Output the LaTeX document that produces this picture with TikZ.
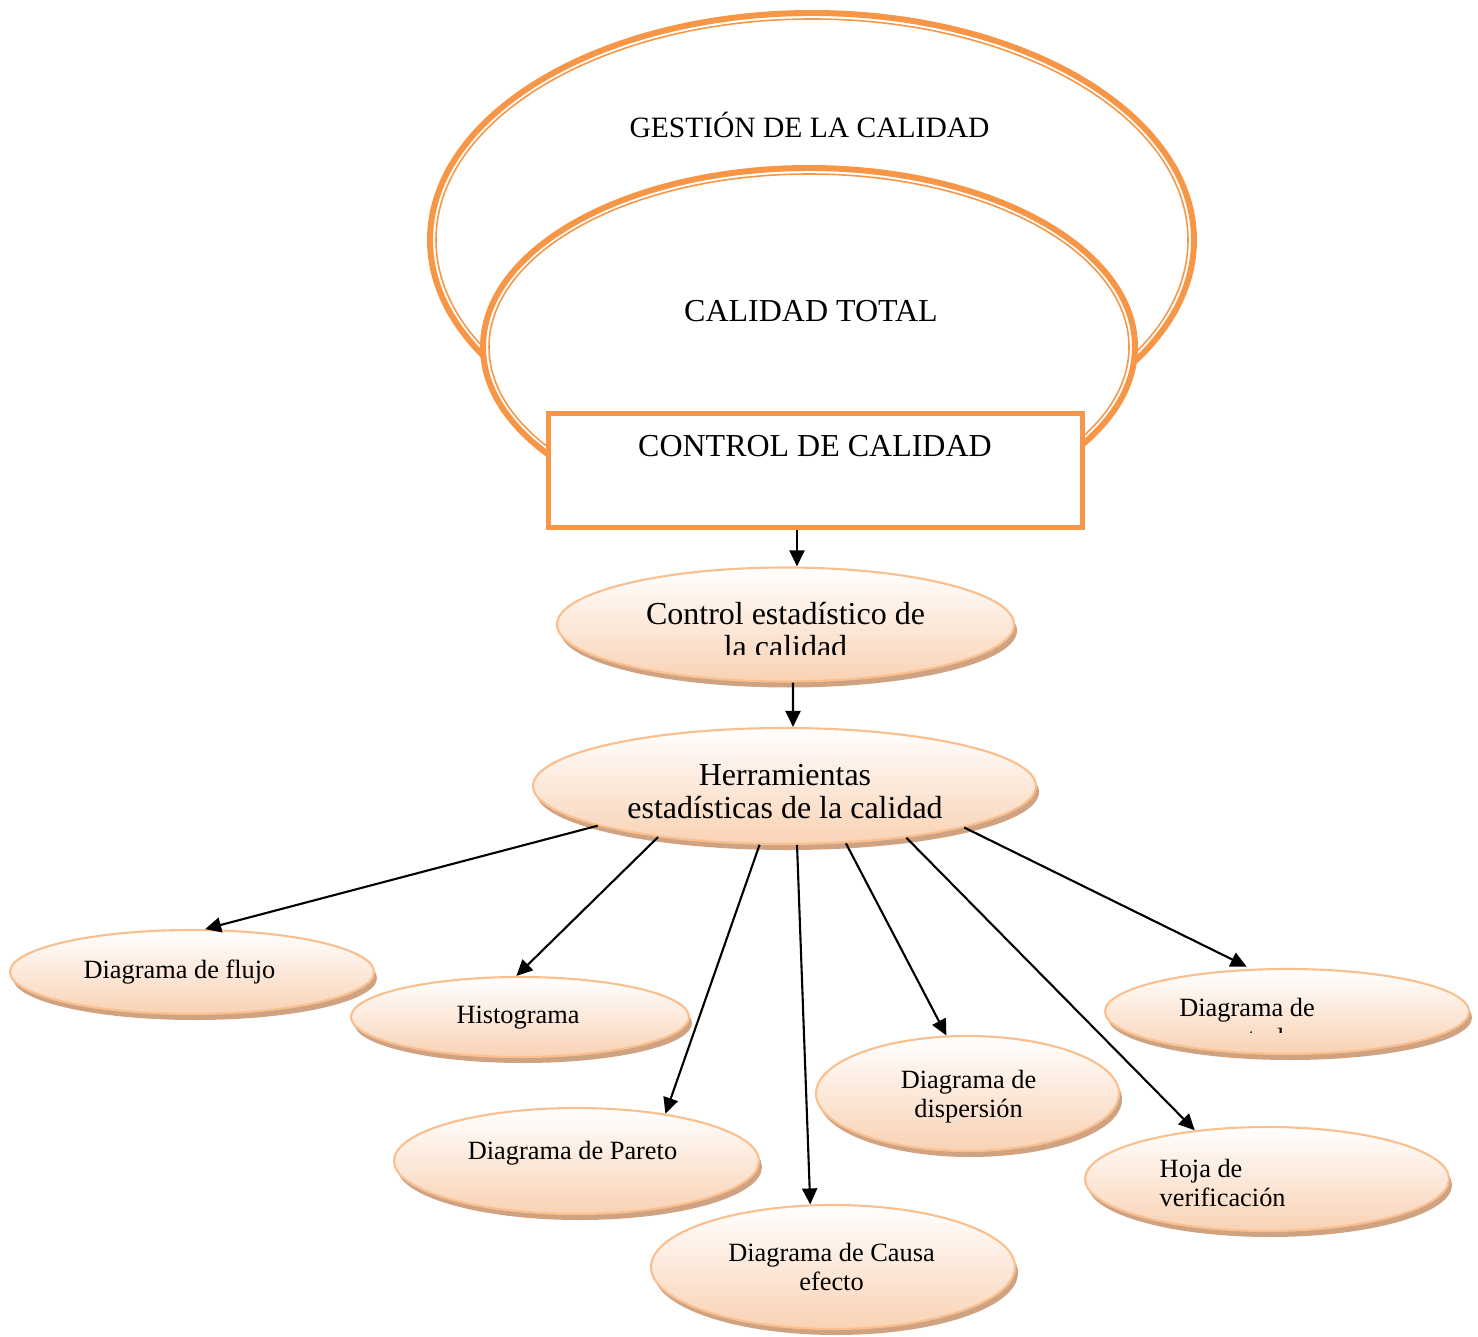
\documentclass[tikz,border=0pt]{standalone}
\usepackage{fontspec}
\setmainfont{Liberation Serif}
\usetikzlibrary{arrows.meta,positioning,shapes.geometric,shadows}
\definecolor{ringorange}{HTML}{F79646}
\definecolor{ovalline}{HTML}{F9BF8F}
\definecolor{ovalfill}{HTML}{F9D2B4}
\definecolor{ovalshadow}{HTML}{CFA281}
\tikzset{
  ccring/.style={draw=ringorange, line width=1.7pt},
  ccringin/.style={draw=ringorange, line width=0.45pt},
  ccbox/.style={draw=ringorange, fill=white, line width=1.45pt, minimum width=5.34cm, minimum height=1.14cm, inner sep=0pt},
  ccoval/.style={ellipse, draw=ovalline, line width=0.6pt, inner sep=0pt, top color=white, bottom color=ovalfill,
    drop shadow={shadow xshift=0.03cm, shadow yshift=-0.06cm, fill=ovalshadow, opacity=1}},
  cctop/.style={inner sep=0pt, font=\fontsize{9.1}{11}\selectfont},
  ccmid/.style={inner sep=0pt, align=center, font=\fontsize{9.1}{9.4}\selectfont},
  ccsmall/.style={inner sep=0pt, align=center, font=\fontsize{7.5}{8.4}\selectfont},
  ccarrow/.style={-{Triangle[length=1.6mm, width=1.5mm]}, line width=0.6pt},
}

\begin{document}
\begin{tikzpicture}
  \useasboundingbox (0,0) rectangle (14.78,-13.37);

  \draw[ccring] (8.12,-2.40) ellipse [x radius=3.82cm, y radius=2.27cm];
  \draw[ccringin] (8.12,-2.40) ellipse [x radius=3.76cm, y radius=2.21cm];
  \draw[ccring, fill=white] (8.09,-3.47) ellipse [x radius=3.26cm, y radius=1.79cm];
  \draw[ccringin] (8.09,-3.47) ellipse [x radius=3.20cm, y radius=1.73cm];
  \node[cctop, font=\fontsize{8.4}{10}\selectfont, anchor=base] (gestion) at (8.095,-1.38) {GESTIÓN DE LA CALIDAD};
  \node[cctop, anchor=base] (total) at (8.11,-3.22) {CALIDAD TOTAL};

  \node[ccbox] (ctrl) at (8.155,-4.705) {};
  \node[cctop, anchor=base] (ctrl-t) at (8.15,-4.57) {CONTROL DE CALIDAD};

  \node[ccoval, minimum width=4.57cm, minimum height=1.14cm] (est) at (7.855,-6.245) {};
  \begin{scope}
    \clip (5.5,-5.6) rectangle (10.2,-6.54);
    \node[ccmid] (est-t) at (7.855,-6.30) {Control estadístico de\\la calidad};
  \end{scope}

  \node[ccoval, minimum width=5.03cm, minimum height=1.16cm] (herr) at (7.845,-7.86) {};
  \begin{scope}
    \clip (5.2,-7.2) rectangle (10.5,-8.20);
    \node[ccmid] (herr-t) at (7.85,-7.92) {Herramientas\\estadísticas de la calidad};
  \end{scope}

  \node[ccoval, minimum width=3.64cm, minimum height=0.84cm] (flujo) at (1.92,-9.72) {};
  \node[ccsmall, anchor=base] (flujo-t) at (1.795,-9.78) {Diagrama de flujo};

  \node[ccoval, minimum width=3.38cm, minimum height=0.80cm] (histo) at (5.20,-10.17) {};
  \node[ccsmall, anchor=base] (histo-t) at (5.18,-10.23) {Histograma};

  \node[ccoval, minimum width=3.65cm, minimum height=1.06cm] (pareto) at (5.765,-11.61) {};
  \node[ccsmall, anchor=base] (pareto-t) at (5.725,-11.59) {Diagrama de Pareto};

  \node[ccoval, minimum width=3.64cm, minimum height=1.24cm] (causa) at (8.33,-12.67) {};
  \node[ccsmall] (causa-t) at (8.315,-12.67) {Diagrama de Causa\\efecto};

  \node[ccoval, minimum width=3.03cm, minimum height=1.15cm] (disp) at (9.675,-10.935) {};
  \node[ccsmall] (disp-t) at (9.685,-10.965) {Diagrama de\\dispersión};

  \node[ccoval, minimum width=3.64cm, minimum height=1.04cm] (hoja) at (12.67,-11.79) {};
  \node[ccsmall, align=left, anchor=west] (hoja-t) at (11.59,-11.83) {Hoja de\\verificación};

  \node[ccoval, minimum width=3.64cm, minimum height=0.85cm] (dctrl) at (12.87,-10.115) {};
  \begin{scope}
    \clip (11.0,-9.6) rectangle (14.7,-10.32);
    \node[ccsmall] (dctrl-t) at (12.47,-10.225) {Diagrama de\\control};
  \end{scope}

  \draw[ccarrow] ([xshift=-0.185cm]ctrl.south) -- ([xshift=0.115cm]est.north);
  \draw[ccarrow] ([xshift=0.075cm]est.south) -- ([xshift=0.085cm]herr.north);
  \draw[ccarrow] (herr.192) -- (flujo.73);
  \draw[ccarrow] (herr.202) -- (histo.95);
  \draw[ccarrow] (herr.247) -- (pareto.28);
  \draw[ccarrow] (herr.282) -- (causa.110);
  \draw[ccarrow] (herr.317) -- (disp.110);
  \draw[ccarrow] (herr.337) -- (hoja.146);
  \draw[ccarrow, shorten >=0.05cm] (herr.347) -- (dctrl.130);
\end{tikzpicture}
\end{document}
